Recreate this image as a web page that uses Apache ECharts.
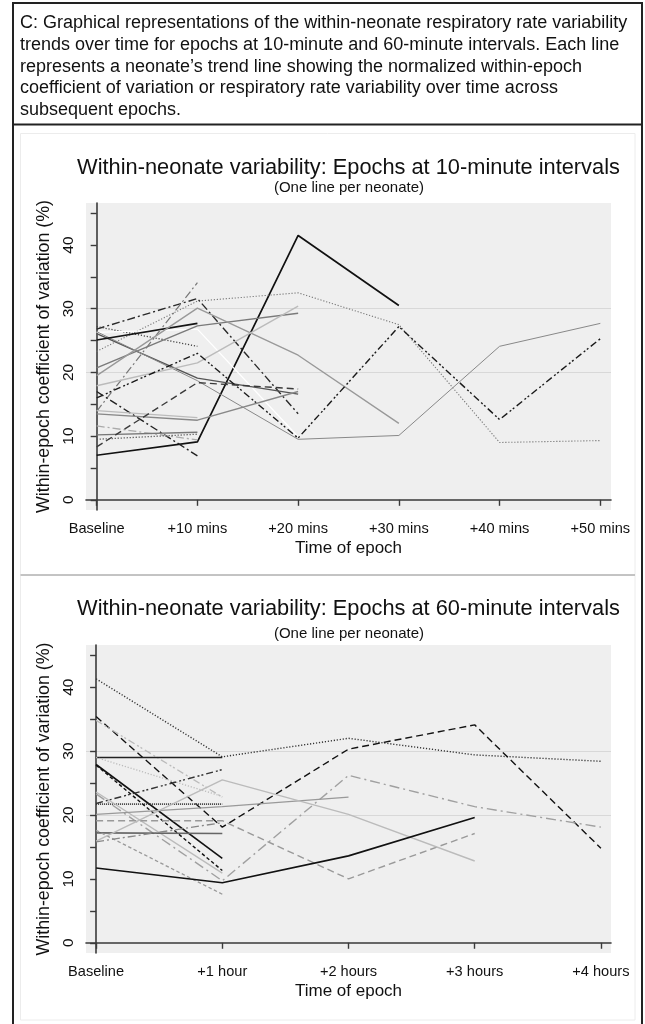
<!DOCTYPE html>
<html>
<head>
<meta charset="utf-8">
<script src="https://cdn.jsdelivr.net/npm/echarts@6/dist/echarts.min.js"></script>
<style>
html,body{margin:0;padding:0;background:#fff;}
#chart{width:645px;height:1024px;}
</style>
</head>
<body>
<div id="chart"></div>
<script>
// ---------- DATA ----------
const topCategories = ['Baseline', '+10 mins', '+20 mins', '+30 mins', '+40 mins', '+50 mins'];
const bottomCategories = ['Baseline', '+1 hour', '+2 hours', '+3 hours', '+4 hours'];
const yTickValues = [0, 5, 10, 15, 20, 25, 30, 35, 40, 45];
const yLabelValues = [0, 10, 20, 30, 40];
const yGridValues = [10, 20, 30, 40];

const captionLines = [
  'C: Graphical representations of the within-neonate respiratory rate variability',
  'trends over time for epochs at 10-minute and 60-minute intervals. Each line',
  'represents a neonate\u2019s trend line showing the normalized within-epoch',
  'coefficient of variation or respiratory rate variability over time across',
  'subsequent epochs.'
];
const topTitle = 'Within-neonate variability: Epochs at 10-minute intervals';
const bottomTitle = 'Within-neonate variability: Epochs at 60-minute intervals';
const subTitle = '(One line per neonate)';
const yName = 'Within-epoch coefficient of variation (%)';
const xName = 'Time of epoch';

// 10-minute epochs (one array per neonate)
const tA = [7.0, 9.1, 41.5, 30.5];
const tB = [23.3, 31.2, 32.5, 27.5, 9.0, 9.3];
const tC = [26.8, 31.6, 13.5];
const tD = [13.9, 34.1];
const tE = [27.2, 24.1];
const tF = [26.3, 26.8, 9.9];
const tG = [26.1, 19.1, 16.6];
const tH = [26.4, 18.7, 9.5, 10.1, 24.1, 27.7];
const tI = [25.1, 27.7];
const tJ = [20.7, 27.3, 29.3];
const tK = [19.5, 30.1, 22.7, 12.0];
const tL = [17.9, 21.5, 30.4];
const tM = [16.0, 23.0, 9.7, 27.2, 12.6, 25.3];
const tN = [17.0, 6.9];
const tO = [14.0, 12.9];
const tP = [13.5, 12.5, 17.0];
const tQ = [11.6, 9.4];
const tR = [10.2, 10.6];
const tS = [9.5, 10.3];
const tT = [8.3, 18.4, 17.4];

// 60-minute epochs
const bA = [41.3, 29.1, 32.0, 29.4, 28.4];
const bB = [35.4, 18.1, 30.3, 34.1, 14.8];
const bC = [34.8, 22.8];
const bD = [29.0, 29.0];
const bE = [29.0, 22.9];
const bF = [27.9, 13.2];
const bG = [27.8, 11.3];
const bH = [21.8, 27.1];
const bI = [21.7, 21.7];
const bJ = [23.6, 10.9];
const bK = [23.3, 9.7, 26.2, 21.3, 18.1];
const bL = [20.1, 21.3, 22.8];
const bM = [19.1, 19.1, 10.0, 17.1];
const bN = [17.2, 17.1];
const bO = [17.6, 7.6];
const bP = [15.9, 25.5, 20.1, 12.8];
const bQ = [15.8, 18.8];
const bR = [11.7, 9.4, 13.6, 19.6];

// ---------- STYLES ----------
const DOT = [1.2, 1.8];
const DASH = [7, 4];
const SDASH = [3.5, 2.5];
const DASHDOT = [8, 3, 2, 3];
const DASHDOTDOT = [7, 3, 2, 2, 2, 3];
const topSeries = [
  [tA, '#111111', 1.7, 'solid'],
  [tB, '#777777', 1.1, DOT],
  [tC, '#2a2a2a', 1.4, DASHDOT],
  [tD, '#777777', 1.2, DASHDOT],
  [tE, '#444444', 1.3, DOT],
  [tF, '#ffffff', 1.3, 'solid'],
  [tG, '#555555', 1.4, 'solid'],
  [tH, '#888888', 1.0, 'solid'],
  [tI, '#151515', 1.6, 'solid'],
  [tJ, '#7a7a7a', 1.4, 'solid'],
  [tK, '#999999', 1.4, 'solid'],
  [tL, '#bbbbbb', 1.4, 'solid'],
  [tM, '#1a1a1a', 1.4, DASHDOTDOT],
  [tN, '#222222', 1.4, DASHDOT],
  [tO, '#bbbbbb', 1.4, 'solid'],
  [tP, '#888888', 1.4, 'solid'],
  [tQ, '#aaaaaa', 1.3, DASHDOT],
  [tR, '#777777', 1.4, 'solid'],
  [tS, '#555555', 1.3, DOT],
  [tT, '#3a3a3a', 1.4, DASH]
];
const bottomSeries = [
  [bA, '#333333', 1.4, DOT],
  [bB, '#111111', 1.4, DASH],
  [bC, '#bbbbbb', 1.3, DASHDOTDOT],
  [bD, '#222222', 1.6, 'solid'],
  [bE, '#bbbbbb', 1.3, DOT],
  [bF, '#111111', 1.6, 'solid'],
  [bG, '#111111', 1.4, SDASH],
  [bH, '#333333', 1.4, DASHDOTDOT],
  [bI, '#333333', 1.7, [1, 1]],
  [bJ, '#bbbbbb', 1.4, 'solid'],
  [bK, '#a0a0a0', 1.4, [10, 4, 2, 4]],
  [bL, '#999999', 1.4, 'solid'],
  [bM, '#999999', 1.4, DASH],
  [bN, '#666666', 1.7, 'solid'],
  [bO, '#999999', 1.3, SDASH],
  [bP, '#bbbbbb', 1.4, 'solid'],
  [bQ, '#888888', 1.3, DASHDOT],
  [bR, '#111111', 1.6, 'solid']
];

const FONT = "'Liberation Sans', Arial, sans-serif";

function toPoints(arr) { return arr.map((v, i) => [i, v]); }
function makeSeries(list, idx) {
  return list.map((s) => ({
    type: 'line',
    xAxisIndex: idx, yAxisIndex: idx * 2,
    data: toPoints(s[0]),
    symbol: 'none', silent: true, animation: false,
    lineStyle: { color: s[1], width: s[2], type: s[3] },
    z: 3
  }));
}

function xAxisFor(idx, cats, pad) {
  const idxs = cats.map((c, i) => i);
  return {
    type: 'value', gridIndex: idx,
    min: -pad, max: cats.length - 1 + pad,
    axisLine: { show: true, lineStyle: { color: '#3a3a3a', width: 1.6 } },
    axisTick: { show: true, customValues: idxs, length: 6, lineStyle: { color: '#3a3a3a', width: 1.4 } },
    axisLabel: { customValues: idxs, formatter: (v) => cats[Math.round(v)], fontSize: 14.6, color: '#111', fontFamily: FONT, margin: 11 },
    splitLine: { show: false },
    name: xName, nameLocation: 'middle', nameGap: 30,
    nameTextStyle: { fontSize: 17, color: '#111', fontFamily: FONT }
  };
}
function yAxesFor(idx) {
  return [{
    type: 'value', gridIndex: idx, min: -1.6, max: 46.6,
    axisLine: { show: true, lineStyle: { color: '#3a3a3a', width: 1.6 } },
    axisTick: { show: true, customValues: yTickValues, length: 6, lineStyle: { color: '#3a3a3a', width: 1.4 } },
    axisLabel: { customValues: yLabelValues, rotate: 90, margin: 9, fontSize: 15.5, color: '#111', fontFamily: FONT },
    splitLine: { show: false },
    name: yName, nameLocation: 'middle', nameGap: 33,
    nameTextStyle: { fontSize: 17.8, color: '#111', fontFamily: FONT }
  }, {
    type: 'value', gridIndex: idx, min: -1.6, max: 46.6,
    axisLine: { show: false },
    axisTick: { show: false, customValues: yGridValues },
    axisLabel: { show: false, customValues: yGridValues },
    splitLine: { show: true, showMinLine: false, showMaxLine: false, lineStyle: { color: '#d8d8d8', width: 1 } }
  }];
}

function txt(x, y, text, size, align) {
  return { type: 'text', x: x, y: y, z: 10,
    style: { text: text, font: size + 'px ' + FONT, fill: '#111',
      textAlign: align, align: align, textVerticalAlign: 'middle', verticalAlign: 'middle' } };
}
function hline(x1, x2, y, color, w) {
  return { type: 'line', z: 10, shape: { x1: x1, y1: y, x2: x2, y2: y }, style: { stroke: color, lineWidth: w } };
}
function vline(x, y1, y2, color, w) {
  return { type: 'line', z: 10, shape: { x1: x, y1: y1, x2: x, y2: y2 }, style: { stroke: color, lineWidth: w } };
}

const graphics = [];
captionLines.forEach((l, i) => graphics.push(txt(20, 23 + i * 21.8, l, 18, 'left')));
graphics.push(hline(13, 642, 3, '#222', 2));
graphics.push(hline(13, 642, 124.5, '#222', 2));
graphics.push(vline(13, 2, 1024, '#222', 2));
graphics.push(vline(642, 2, 1024, '#222', 2));
graphics.push({ type: 'rect', z: -5, shape: { x: 20.5, y: 133.5, width: 614.5, height: 441.5 }, style: { fill: 'none', stroke: '#ececec', lineWidth: 1 } });
graphics.push({ type: 'rect', z: -5, shape: { x: 20.5, y: 575, width: 614.5, height: 445 }, style: { fill: 'none', stroke: '#ececec', lineWidth: 1 } });
graphics.push(hline(20.5, 635, 575, '#b4b4b4', 1.5));
graphics.push(txt(348.5, 168, topTitle, 21.8, 'center'));
graphics.push(txt(349, 188, subTitle, 15, 'center'));
graphics.push(txt(348.5, 609, bottomTitle, 21.8, 'center'));
graphics.push(txt(349, 634, subTitle, 15, 'center'));

const y0 = yAxesFor(0), y1 = yAxesFor(1);
const option = {
  animation: false,
  backgroundColor: '#ffffff',
  grid: [
    { left: 86, top: 203, width: 525, height: 307, show: true, backgroundColor: '#efefef', borderWidth: 0 },
    { left: 86, top: 645, width: 525, height: 308, show: true, backgroundColor: '#efefef', borderWidth: 0 }
  ],
  xAxis: [xAxisFor(0, topCategories, 0.106), xAxisFor(1, bottomCategories, 0.08)],
  yAxis: [y0[0], y0[1], y1[0], y1[1]],
  series: makeSeries(topSeries, 0).concat(makeSeries(bottomSeries, 1)),
  graphic: { elements: graphics }
};

const chart = echarts.init(document.getElementById('chart'), null, { renderer: 'canvas' });
chart.setOption(option);
</script>
</body>
</html>
